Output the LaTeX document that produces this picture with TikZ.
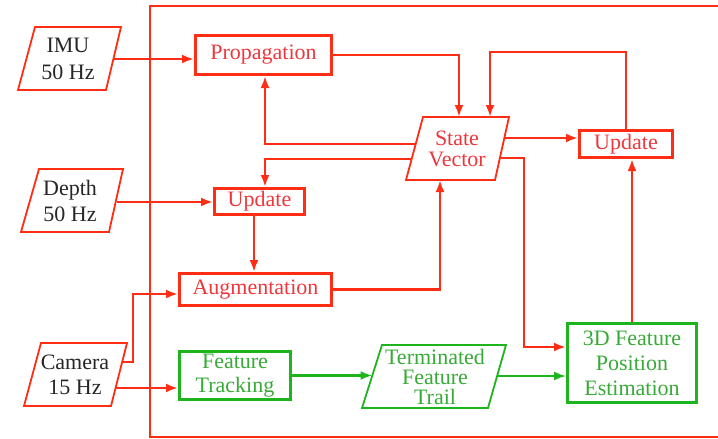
\documentclass[tikz,border=0pt]{standalone}
\usepackage{fontspec}
\setmainfont{Liberation Serif}
\usetikzlibrary{arrows.meta,calc}
\definecolor{rline}{RGB}{255,45,20}
\definecolor{rtext}{RGB}{238,55,60}
\definecolor{gline}{RGB}{30,180,30}
\definecolor{gtext}{RGB}{55,170,55}
\begin{document}
\begin{tikzpicture}[x=1pt,y=-1pt,
  rbox/.style={draw=rline, line width=3pt, text=rtext, inner sep=0pt, align=center, font=\fontsize{22}{26}\selectfont},
  gbox/.style={draw=gline, line width=3pt, text=gtext, inner sep=0pt, align=center},
  ptext/.style={inner sep=0pt, align=center, text=black!85},
  para/.style={draw=rline, line width=1.8pt, line join=miter},
  gpara/.style={draw=gline, line width=1.8pt, line join=miter},
  rarrow/.style={draw=rline, line width=2.5pt, -{Latex[length=12pt,width=9pt]}},
  rline/.style={draw=rline, line width=2.5pt},
  garrow/.style={draw=gline, line width=2.5pt, -{Latex[length=12pt,width=9pt]}},
  frame/.style={draw=rline, line width=2pt}
]
\useasboundingbox (0,0) rectangle (718,439);

% outer frame (open on the right)
\draw[frame] (730,6) -- (150,6) -- (150,437) -- (730,437);

% parallelograms
\draw[para] (35,27) -- (121,27) -- (106,90) -- (18,90) -- cycle;
\node[ptext, font=\fontsize{22}{27}\selectfont] (imu) at (68,59) {IMU\\50 Hz};
\coordinate (imuR) at (113.4,59);

\draw[para] (39,169) -- (123,169) -- (109,232) -- (21,232) -- cycle;
\node[ptext, font=\fontsize{22}{26}\selectfont] (depth) at (70,201) {Depth\\50 Hz};
\coordinate (dpR) at (116.5,202);

\draw[para] (41,343) -- (127,343) -- (111,406) -- (24,406) -- cycle;
\node[ptext, font=\fontsize{22}{25}\selectfont] (cam) at (75,375) {Camera\\15 Hz};
\coordinate (camR1) at (122.2,362);
\coordinate (camR2) at (115.6,388);

\draw[para] (423,117) -- (509,117) -- (495,180) -- (406,180) -- cycle;
\node[ptext, text=rtext, font=\fontsize{22}{21}\selectfont] (state) at (457,149) {State\\Vector};
\coordinate (stTop1) at (459,117);
\coordinate (stTop2) at (490,117);
\coordinate (stB) at (440,180);
\coordinate (stL1) at (415.7,144);
\coordinate (stL2) at (411.7,159);
\coordinate (stR1) at (504.3,138);
\coordinate (stR2) at (499.9,158);
\coordinate (fb) at (490,52);

\draw[gpara] (382,345) -- (506,345) -- (488,408) -- (362,408) -- cycle;
\node[ptext, text=gtext, font=\fontsize{22}{20}\selectfont] (tft) at (435,377) {Terminated\\Feature\\Trail};
\coordinate (tftL) at (372.5,375.5);
\coordinate (tftR) at (497,376);

% boxes
\node[rbox, minimum width=136pt, minimum height=39pt] (prop) at (263.5,55) {Propagation};
\node[rbox, minimum width=90pt, minimum height=26pt] (upd1) at (259.5,201.5) {Update};
\node[rbox, minimum width=152pt, minimum height=32pt] (aug) at (255.5,289.5) {Augmentation};
\node[rbox, minimum width=93pt, minimum height=27pt] (upd2) at (626,144) {Update};
\node[gbox, minimum width=111pt, minimum height=48pt, font=\fontsize{22}{24}\selectfont] (ft) at (235,375.5) {Feature\\Tracking};
\node[gbox, minimum width=129pt, minimum height=79pt, font=\fontsize{22}{25}\selectfont] (d3) at (632,363) {3D Feature\\Position\\Estimation};

% connectors
\draw[rarrow] (imuR) -- (imuR -| prop.west);
\draw[rarrow] (prop.east) -| (stTop1);
\draw[rarrow] (upd2.north) -- (upd2.north |- fb) -| (stTop2);
\draw[rarrow] (stR1) -- (stR1 -| upd2.west);
\draw[rarrow] (stL1) -| ([xshift=1.5pt]prop.south);
\draw[rarrow] (stL2) -| ([xshift=5.5pt]upd1.north);
\draw[rarrow] (dpR) -- (dpR -| upd1.west);
\draw[rarrow] ([xshift=-5.5pt]upd1.south) -- ([xshift=-5.5pt]upd1.south |- aug.north);
\draw[rarrow] (aug.east) -| (stB);
\draw[rarrow] (camR1) -- ++(11,0) |- ([yshift=-4.5pt]aug.west);
\draw[rarrow] (camR2) -- (camR2 -| ft.west);
\draw[garrow] (ft.east) -- (tftL);
\draw[garrow, line width=2pt] (tftR) -- (tftR -| d3.west);
\draw[rarrow] (stR2) -- ++(24,0) |- ([yshift=16pt]d3.west);
\draw[rarrow] (d3.north) -- (d3.north |- upd2.south);
\end{tikzpicture}
\end{document}
